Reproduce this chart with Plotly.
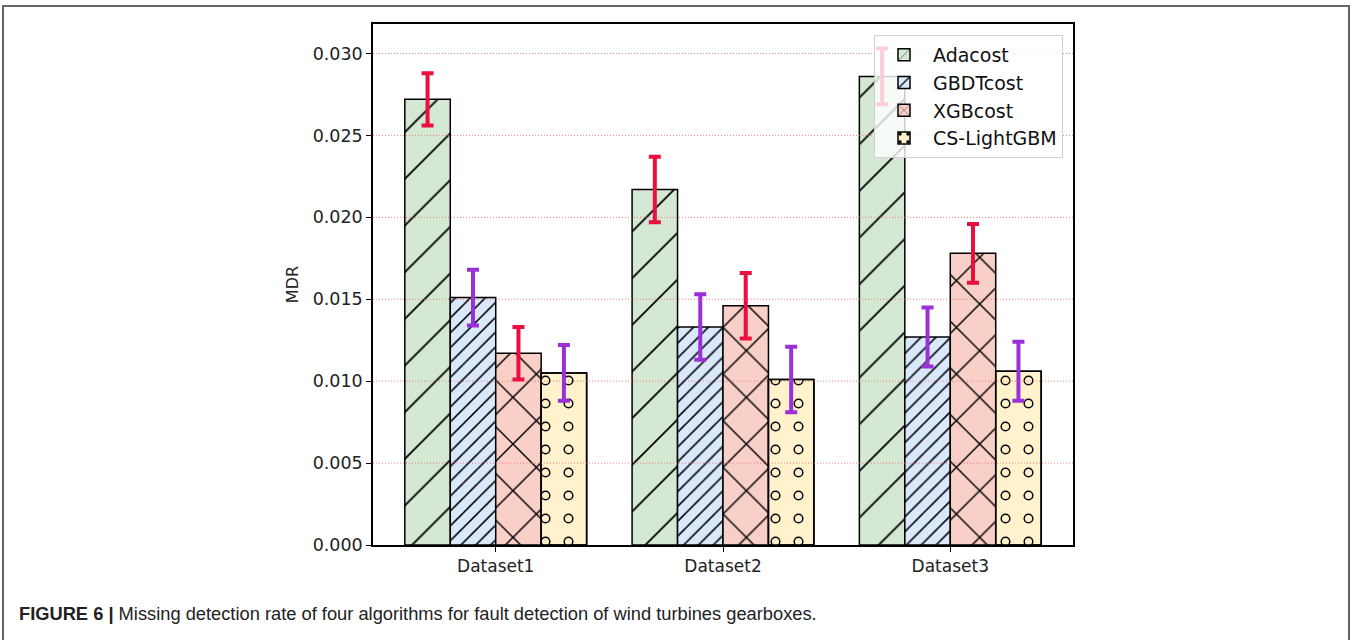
import plotly.graph_objects as go

# ---- data ----
categories = ["Dataset1", "Dataset2", "Dataset3"]
series_names = ["Adacost", "GBDTcost", "XGBcost", "CS-LightGBM"]
adacost = [0.0272, 0.0217, 0.0286]
gbdtcost = [0.0151, 0.0133, 0.0127]
xgbcost = [0.0117, 0.0146, 0.0178]
cs_lightgbm = [0.0105, 0.0101, 0.0106]
adacost_err = [0.0016, 0.0020, 0.0017]
gbdtcost_err = [0.0017, 0.0020, 0.0018]
xgbcost_err = [0.0016, 0.0020, 0.0018]
cs_lightgbm_err = [0.0017, 0.0020, 0.0018]
y_ticks = [0.000, 0.005, 0.010, 0.015, 0.020, 0.025, 0.030]
caption = "<b>FIGURE 6 |</b> Missing detection rate of four algorithms for fault detection of wind turbines gearboxes."

# ---- style ----
W, H = 1351, 640
L, R, T, B = 373, 1073, 24, 545
RED = "#ea0f3e"
PURPLE = "#9a30d8"
fills = ["#d5e8d4", "#dae8fc", "#f9d0c8", "#fff2cc"]
FONT = "DejaVu Sans"
GRID = "rgba(240,90,90,0.75)"

def px_x(p):
    return (p - L) / (R - L)

def px_y(p):
    return (B - p) / (B - T)

fig = go.Figure()

specs = [
    (series_names[0], adacost, adacost_err, fills[0], dict(shape="/", size=33, solidity=0.055), RED),
    (series_names[1], gbdtcost, gbdtcost_err, fills[1], dict(shape="/", size=10.5, solidity=0.15), PURPLE),
    (series_names[2], xgbcost, xgbcost_err, fills[2], dict(shape="x", size=33, solidity=0.085), RED),
]
for i, (name, vals, errs, col, pat, ecol) in enumerate(specs):
    fig.add_trace(go.Bar(
        x=categories, y=vals, name=name, offsetgroup=str(i), legendgroup=str(i),
        marker=dict(color=col, line=dict(color="black", width=1.5),
                    pattern=dict(fgcolor="black", bgcolor=col, fillmode="overlay",
                                 fgopacity=1, **pat)),
        error_y=dict(type="data", array=errs, color=ecol, thickness=4, width=6),
        hoverinfo="skip",
    ))

# CS-LightGBM: dotted rings (black dots + smaller fill-coloured dots on top)
fig.add_trace(go.Bar(
    x=categories, y=cs_lightgbm, name=series_names[3], offsetgroup="3", legendgroup="3",
    marker=dict(color=fills[3], line=dict(color="black", width=1.5),
                pattern=dict(shape=".", size=23, solidity=0.15, fgcolor="black",
                             bgcolor=fills[3], fillmode="overlay", fgopacity=1)),
    hoverinfo="skip",
))
fig.add_trace(go.Bar(
    x=categories, y=cs_lightgbm, name=series_names[3], offsetgroup="3", legendgroup="3",
    showlegend=False,
    marker=dict(color="rgba(0,0,0,0)", line=dict(color="black", width=1.5),
                pattern=dict(shape=".", size=23, solidity=0.075, fgcolor=fills[3],
                             bgcolor="rgba(0,0,0,0)", fillmode="replace", fgopacity=1)),
    error_y=dict(type="data", array=cs_lightgbm_err, color=PURPLE, thickness=4, width=6),
    hoverinfo="skip",
))

fig.update_layout(
    template="none",
    width=W, height=H,
    margin=dict(l=L, r=W - R, t=T, b=H - B, pad=0),
    paper_bgcolor="white", plot_bgcolor="white",
    barmode="group", bargap=0.2, bargroupgap=0,
    font=dict(family=FONT, size=18, color="#222"),
    legend=dict(x=px_x(1063), xanchor="right", y=px_y(35), yanchor="top",
                bgcolor="rgba(255,255,255,0.8)", bordercolor="#d0d0d0", borderwidth=1,
                font=dict(family=FONT, size=19, color="#111"),
                tracegroupgap=4, traceorder="normal", itemwidth=48),
    showlegend=True,
)
fig.update_xaxes(
    range=[-0.54, 2.54], showline=True, linecolor="black", linewidth=1.5, mirror=True,
    ticks="outside", ticklen=5, tickcolor="black", tickwidth=1.2, showgrid=False,
    zeroline=False,
    tickfont=dict(family=FONT, size=17, color="#222"),
)
fig.update_yaxes(
    range=[0, 0.0318], tickvals=y_ticks, tickformat=".3f",
    showline=True, linecolor="black", linewidth=1.5, mirror=True,
    ticks="outside", ticklen=5, tickcolor="black", tickwidth=1.2,
    showgrid=False, zeroline=False,
    tickfont=dict(family=FONT, size=17.5, color="#222"),
    title=dict(text="MDR", font=dict(family=FONT, size=16, color="#222"), standoff=10),
)

# dotted grid lines drawn above the bars (as in the original)
for v in y_ticks[1:]:
    fig.add_shape(type="line", xref="paper", yref="y", x0=0, x1=1, y0=v, y1=v,
                  line=dict(color=GRID, width=1, dash="1px,2px"), layer="above")

# outer figure frame
fig.add_shape(type="rect", xref="paper", yref="paper",
              x0=px_x(3), x1=px_x(1349), y0=px_y(700), y1=px_y(6),
              line=dict(color="#666", width=2), fillcolor="rgba(0,0,0,0)", layer="below")

fig.add_annotation(
    xref="paper", yref="paper", x=px_x(17), y=px_y(613), xanchor="left", yanchor="middle",
    text=caption, showarrow=False, align="left",
    font=dict(family="Liberation Sans", size=18.3, color="#222"),
)

fig.write_html("out.html", config={"displayModeBar": False},
               post_script="document.body.style.margin='0';document.body.style.padding='0';document.body.style.overflow='hidden';")
